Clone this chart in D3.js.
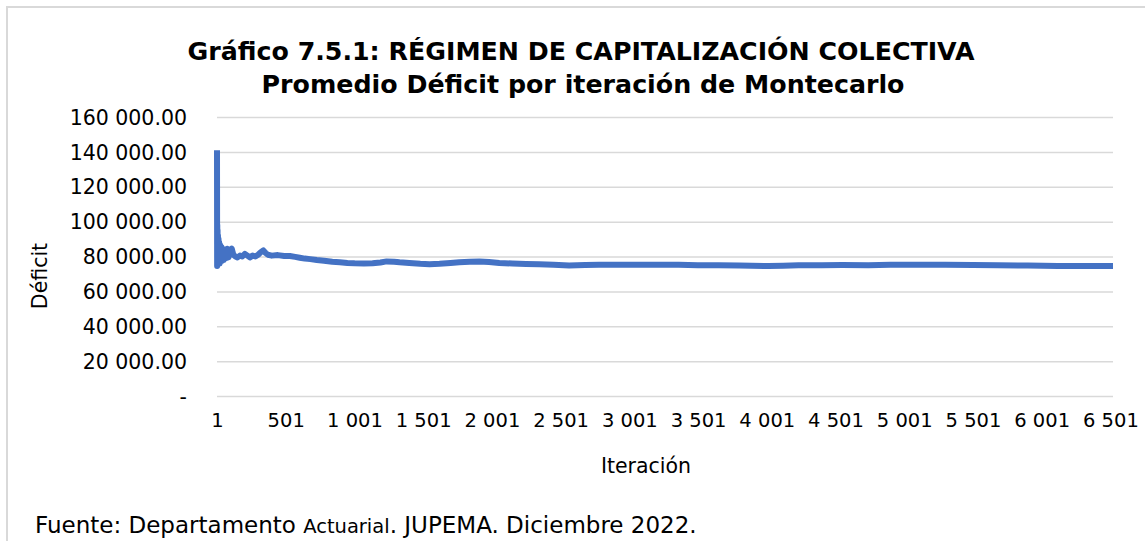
<!DOCTYPE html>
<html>
<head>
<meta charset="utf-8">
<script src="https://cdn.jsdelivr.net/npm/d3@7"></script>
<style>
  html, body { margin: 0; padding: 0; background: #ffffff; }
  svg { display: block; }
  text { font-family: "DejaVu Sans", sans-serif; fill: #000; }
</style>
</head>
<body>
<svg id="chart" width="1145" height="541"></svg>
<script>
// Iteration number of each sampled point of the running average
const iteracion = [
  1, 2, 3, 4, 5, 6, 8, 10, 12, 14, 17, 20, 24, 28, 33, 38, 44, 50, 58, 66, 75, 85, 96,
  108, 120, 135, 150, 168, 185, 204, 222, 240, 260, 280, 300, 320, 338, 355, 371, 400,
  444, 490, 531, 570, 603, 640, 680, 727, 780, 840, 894, 950, 1002, 1070, 1133, 1190,
  1235, 1290, 1329, 1400, 1480, 1547, 1620, 1700, 1764, 1840, 1910, 1980, 2055, 2150,
  2250, 2345, 2450, 2563, 2680, 2780, 2900, 3071, 3200, 3361, 3500, 3651, 3800, 4014,
  4120, 4232, 4400, 4550, 4740, 4900, 5102, 5300, 5500, 5683, 5900, 6118, 6300, 6520
];
// Average deficit after each of those iterations
const deficit = [
  141000, 74500, 98000, 75500, 95000, 76500, 92000, 76000, 90000, 77000, 88000, 76000,
  86500, 77000, 85500, 77500, 84500, 78000, 84000, 79000, 84500, 79500, 83500,
  84500, 81000, 80000, 79500, 80500, 80000, 81500, 80500, 79500, 80500, 80000, 81000,
  82500, 83500, 82000, 81000, 80500,
  80800, 80300, 80300, 79800, 79300, 78800, 78500, 78000, 77600, 77000, 76700, 76300,
  76100, 76000, 76100, 76600, 77200, 77000, 76700, 76300, 75800, 75500, 75800, 76300,
  76700, 77000, 77200, 76800, 76300, 76000, 75700, 75500, 75200, 74900, 75100, 75300,
  75300, 75300, 75200, 75300, 75000, 75000, 74800, 74500, 74700, 75000, 75000, 75100,
  75000, 75200, 75300, 75200, 75100, 75000, 74800, 74600, 74500, 74500
];
// Axis ticks
const xTicks = [1, 501, 1001, 1501, 2001, 2501, 3001, 3501, 4001, 4501, 5001, 5501, 6001, 6501];
const yTicks = [0, 20000, 40000, 60000, 80000, 100000, 120000, 140000, 160000];

const titulo1 = "Gráfico 7.5.1: RÉGIMEN DE CAPITALIZACIÓN COLECTIVA";
const titulo2 = "Promedio Déficit por iteración de Montecarlo";
const ejeX = "Iteración";
const ejeY = "Déficit";

const loc = d3.formatLocale({ decimal: ".", thousands: " ", grouping: [3], currency: ["", ""] });
const fmtY = v => v === 0 ? "-" : loc.format(",.2f")(v);
const fmtX = loc.format(",");

const svg = d3.select("#chart");
const W = 1145, H = 541;
const m = { left: 217, right: 1113, top: 117, bottom: 396 };

// chart frame (left and top edges visible)
svg.append("line").attr("x1", 7).attr("x2", 7).attr("y1", 7).attr("y2", H)
  .attr("stroke", "#d9d9d9").attr("stroke-width", 2);
svg.append("line").attr("x1", 6).attr("x2", W).attr("y1", 7).attr("y2", 7)
  .attr("stroke", "#d9d9d9").attr("stroke-width", 2);

const x = d3.scaleLinear().domain([1, 6520]).range([m.left, m.right]);
const y = d3.scaleLinear().domain([0, 160000]).range([m.bottom, m.top]);

// horizontal gridlines
const yAxis = d3.axisLeft(y).tickValues(yTicks).tickSize(-(m.right - m.left)).tickPadding(30).tickFormat(fmtY);
const gy = svg.append("g").attr("transform", `translate(${m.left},0)`).call(yAxis);
gy.select(".domain").remove();
gy.selectAll(".tick line").attr("stroke", "#d9d9d9").attr("stroke-width", 1.5);
gy.selectAll(".tick text").style("font-size", "20.5px").attr("dy", "0.35em");

// category labels along the bottom
const xAxis = d3.axisBottom(x).tickValues(xTicks).tickSize(0).tickPadding(17).tickFormat(fmtX);
const gx = svg.append("g").attr("transform", `translate(0,${m.bottom})`).call(xAxis);
gx.select(".domain").remove();
gx.selectAll(".tick text").style("font-size", "19.5px").attr("dy", "0.71em");

// the series
const pts = iteracion.map((it, i) => [it, deficit[i]]);
const line = d3.line().x(d => x(d[0])).y(d => y(d[1]));
svg.append("path").datum(pts).attr("d", line)
  .attr("fill", "none").attr("stroke", "#4472c4").attr("stroke-width", 6)
  .attr("stroke-linejoin", "round").attr("stroke-linecap", "butt");

// titles
svg.append("text").attr("x", 581).attr("y", 60).attr("text-anchor", "middle")
  .style("font-size", "24px").style("font-weight", "bold")
  .attr("textLength", 787).attr("lengthAdjust", "spacingAndGlyphs").text(titulo1);
svg.append("text").attr("x", 583).attr("y", 93).attr("text-anchor", "middle")
  .style("font-size", "24px").style("font-weight", "bold")
  .attr("textLength", 643).attr("lengthAdjust", "spacingAndGlyphs").text(titulo2);

// axis titles
svg.append("text").attr("x", 646).attr("y", 473).attr("text-anchor", "middle")
  .style("font-size", "20.5px").text(ejeX);
svg.append("text").attr("transform", "translate(47,276) rotate(-90)").attr("text-anchor", "middle")
  .style("font-size", "20.5px").text(ejeY);

// source note
const src = svg.append("text").attr("x", 35).attr("y", 533).style("font-size", "23px");
src.append("tspan").text("Fuente: Departamento ");
src.append("tspan").style("font-size", "19.5px").text("Actuarial");
src.append("tspan").text(". JUPEMA. Diciembre 2022.");
</script>
</body>
</html>
